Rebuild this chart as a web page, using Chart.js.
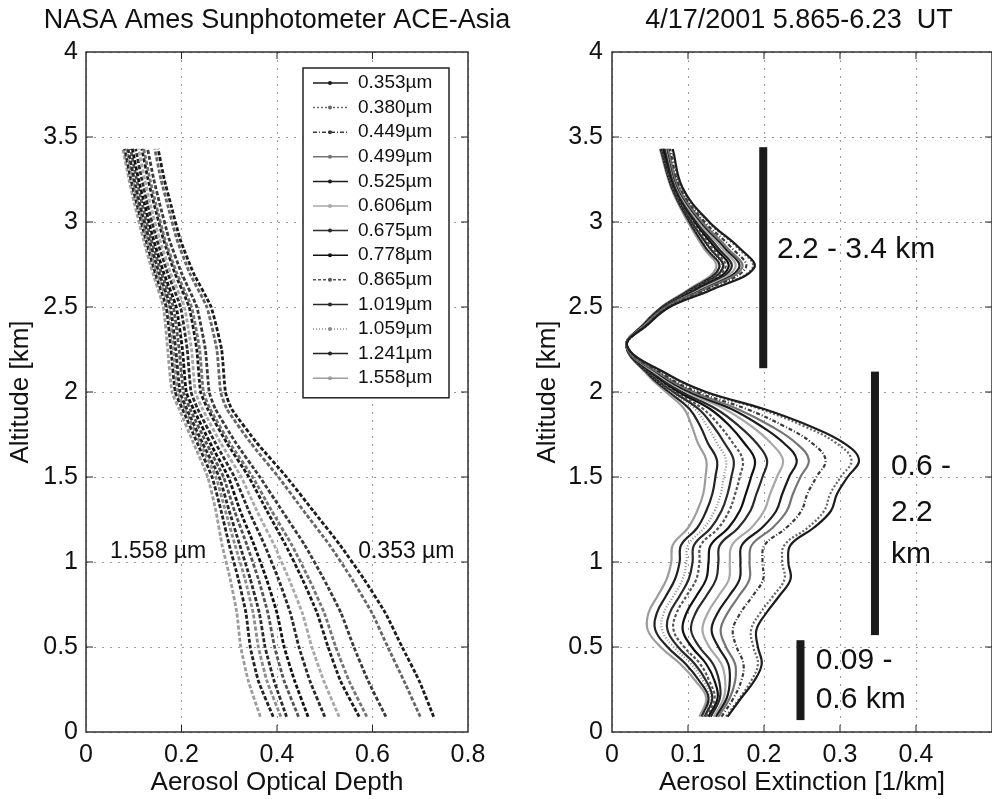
<!DOCTYPE html>
<html lang="en">
<head>
<meta charset="UTF-8">
<title>NASA Ames Sunphotometer ACE-Asia</title>
<script src="https://cdn.jsdelivr.net/npm/chart.js"></script>
<style>
  html, body { margin: 0; padding: 0; background: #fff; overflow: hidden; width: 992px; height: 799px; }
  #left { position: absolute; left: 0; top: 0; }
  #right { position: absolute; left: 520px; top: 0; }
</style>
</head>
<body>
<canvas id="left" width="540" height="799"></canvas>
<canvas id="right" width="480" height="799"></canvas>
<script>
// wavelengths (legend order)
const wavelengths = ['0.353µm', '0.380µm', '0.449µm', '0.499µm', '0.525µm', '0.606µm', '0.675µm',
    '0.778µm', '0.865µm', '1.019µm', '1.059µm', '1.241µm', '1.558µm'];

// left panel: aerosol optical depth vs altitude [km]
const aodAltitudes = [0.09, 0.3, 0.5, 0.7, 0.9, 1.1, 1.3, 1.5, 1.7, 1.9, 2.0, 2.25, 2.5, 2.7, 2.9, 3.1, 3.25, 3.43];
const aod353 = [0.728, 0.698, 0.662, 0.627, 0.582, 0.532, 0.476, 0.420, 0.358, 0.305, 0.292, 0.284, 0.262, 0.225, 0.197, 0.178, 0.164, 0.151];
const aod380 = [0.700, 0.666, 0.632, 0.599, 0.557, 0.510, 0.456, 0.403, 0.345, 0.295, 0.282, 0.274, 0.253, 0.217, 0.190, 0.171, 0.157, 0.144];
const aod449 = [0.628, 0.591, 0.561, 0.534, 0.498, 0.458, 0.411, 0.364, 0.314, 0.271, 0.258, 0.250, 0.232, 0.200, 0.174, 0.155, 0.142, 0.129];
const aod499 = [0.588, 0.551, 0.523, 0.499, 0.467, 0.431, 0.389, 0.349, 0.301, 0.260, 0.246, 0.238, 0.221, 0.190, 0.165, 0.147, 0.134, 0.121];
const aod525 = [0.572, 0.533, 0.507, 0.484, 0.453, 0.418, 0.379, 0.341, 0.295, 0.255, 0.240, 0.232, 0.216, 0.186, 0.162, 0.143, 0.130, 0.117];
const aod606 = [0.530, 0.498, 0.473, 0.453, 0.425, 0.394, 0.358, 0.325, 0.282, 0.244, 0.229, 0.221, 0.206, 0.177, 0.154, 0.135, 0.123, 0.110];
const aod675 = [0.500, 0.469, 0.446, 0.428, 0.403, 0.374, 0.341, 0.311, 0.271, 0.234, 0.220, 0.212, 0.198, 0.171, 0.148, 0.129, 0.117, 0.104];
const aod778 = [0.465, 0.437, 0.415, 0.400, 0.378, 0.352, 0.323, 0.298, 0.260, 0.225, 0.210, 0.202, 0.189, 0.163, 0.141, 0.123, 0.110, 0.097];
const aod865 = [0.445, 0.415, 0.395, 0.381, 0.361, 0.337, 0.311, 0.288, 0.252, 0.218, 0.204, 0.195, 0.183, 0.158, 0.136, 0.118, 0.106, 0.093];
const aod1019 = [0.420, 0.394, 0.375, 0.363, 0.344, 0.322, 0.300, 0.279, 0.244, 0.211, 0.197, 0.188, 0.177, 0.153, 0.132, 0.113, 0.101, 0.088];
const aod1059 = [0.408, 0.379, 0.361, 0.350, 0.333, 0.312, 0.292, 0.272, 0.239, 0.207, 0.192, 0.183, 0.173, 0.149, 0.128, 0.110, 0.098, 0.085];
const aod1241 = [0.392, 0.361, 0.344, 0.335, 0.319, 0.300, 0.283, 0.264, 0.233, 0.202, 0.187, 0.178, 0.168, 0.145, 0.125, 0.107, 0.094, 0.081];
const aod1558 = [0.365, 0.340, 0.324, 0.316, 0.302, 0.285, 0.272, 0.255, 0.225, 0.195, 0.180, 0.171, 0.162, 0.140, 0.120, 0.102, 0.090, 0.077];

// right panel: aerosol extinction [1/km] vs altitude [km]
const extAltitudes = [0.09, 0.2, 0.3, 0.4, 0.5, 0.6, 0.7, 0.8, 0.9, 1.0, 1.1, 1.2, 1.3, 1.4, 1.5, 1.6, 1.7, 1.8, 1.9, 2.0,
    2.1, 2.27, 2.4, 2.5, 2.6, 2.73, 2.85, 3.0, 3.2, 3.43];
const ext353 = [0.152, 0.170, 0.187, 0.197, 0.192, 0.190, 0.203, 0.220, 0.235, 0.232, 0.235, 0.265, 0.288, 0.296, 0.310, 0.325, 0.305, 0.260, 0.200, 0.124, 0.075, 0.020, 0.048, 0.076, 0.130, 0.187, 0.167, 0.128, 0.093, 0.080];
const ext380 = [0.150, 0.168, 0.183, 0.192, 0.186, 0.183, 0.195, 0.212, 0.227, 0.224, 0.227, 0.257, 0.279, 0.287, 0.301, 0.315, 0.295, 0.252, 0.195, 0.121, 0.074, 0.020, 0.048, 0.075, 0.129, 0.185, 0.165, 0.127, 0.092, 0.079];
const ext449 = [0.144, 0.160, 0.170, 0.173, 0.164, 0.159, 0.169, 0.185, 0.199, 0.198, 0.201, 0.229, 0.249, 0.257, 0.269, 0.281, 0.263, 0.226, 0.177, 0.112, 0.069, 0.020, 0.047, 0.074, 0.123, 0.176, 0.157, 0.122, 0.090, 0.076];
const ext499 = [0.140, 0.155, 0.162, 0.162, 0.150, 0.143, 0.152, 0.167, 0.181, 0.181, 0.184, 0.211, 0.230, 0.238, 0.248, 0.259, 0.242, 0.209, 0.165, 0.107, 0.066, 0.019, 0.046, 0.072, 0.120, 0.171, 0.151, 0.119, 0.088, 0.074];
const ext525 = [0.137, 0.151, 0.155, 0.153, 0.140, 0.131, 0.139, 0.154, 0.168, 0.169, 0.171, 0.197, 0.216, 0.224, 0.233, 0.243, 0.226, 0.196, 0.157, 0.102, 0.064, 0.019, 0.046, 0.071, 0.118, 0.167, 0.148, 0.117, 0.087, 0.073];
const ext606 = [0.134, 0.147, 0.149, 0.144, 0.128, 0.119, 0.126, 0.140, 0.154, 0.155, 0.158, 0.183, 0.200, 0.208, 0.217, 0.225, 0.209, 0.183, 0.148, 0.098, 0.061, 0.019, 0.045, 0.071, 0.115, 0.162, 0.144, 0.114, 0.086, 0.072];
const ext675 = [0.130, 0.142, 0.141, 0.133, 0.115, 0.104, 0.110, 0.124, 0.137, 0.140, 0.142, 0.166, 0.182, 0.190, 0.198, 0.204, 0.190, 0.167, 0.137, 0.092, 0.058, 0.019, 0.044, 0.069, 0.112, 0.157, 0.139, 0.111, 0.084, 0.070];
const ext778 = [0.127, 0.139, 0.135, 0.124, 0.105, 0.093, 0.098, 0.111, 0.124, 0.127, 0.130, 0.153, 0.168, 0.176, 0.183, 0.188, 0.174, 0.155, 0.129, 0.088, 0.056, 0.019, 0.044, 0.069, 0.110, 0.153, 0.135, 0.109, 0.083, 0.068];
const ext865 = [0.124, 0.135, 0.128, 0.116, 0.095, 0.081, 0.085, 0.098, 0.111, 0.115, 0.117, 0.140, 0.154, 0.162, 0.168, 0.172, 0.159, 0.142, 0.120, 0.084, 0.054, 0.019, 0.043, 0.068, 0.107, 0.149, 0.131, 0.107, 0.082, 0.067];
const ext1019 = [0.122, 0.132, 0.124, 0.109, 0.087, 0.073, 0.076, 0.089, 0.101, 0.106, 0.108, 0.130, 0.144, 0.152, 0.157, 0.160, 0.148, 0.133, 0.114, 0.081, 0.052, 0.019, 0.043, 0.067, 0.105, 0.146, 0.128, 0.105, 0.081, 0.066];
const ext1059 = [0.120, 0.130, 0.120, 0.104, 0.081, 0.066, 0.068, 0.081, 0.093, 0.098, 0.100, 0.121, 0.135, 0.143, 0.147, 0.150, 0.138, 0.125, 0.109, 0.078, 0.051, 0.019, 0.043, 0.066, 0.104, 0.144, 0.126, 0.104, 0.080, 0.065];
const ext1241 = [0.118, 0.127, 0.115, 0.097, 0.073, 0.057, 0.059, 0.071, 0.083, 0.089, 0.091, 0.112, 0.124, 0.132, 0.136, 0.138, 0.126, 0.116, 0.102, 0.075, 0.049, 0.019, 0.042, 0.066, 0.102, 0.141, 0.123, 0.102, 0.079, 0.064];
const ext1558 = [0.115, 0.124, 0.110, 0.090, 0.064, 0.047, 0.048, 0.060, 0.072, 0.078, 0.080, 0.100, 0.112, 0.120, 0.123, 0.124, 0.113, 0.105, 0.095, 0.071, 0.047, 0.019, 0.042, 0.065, 0.100, 0.137, 0.120, 0.100, 0.078, 0.063];

// axis ranges: [min, max, step]
const aodTicks = [0, 0.8, 0.2];
const extTicks = [0, 0.5, 0.1];
const altTicks = [0, 4, 0.5];

const aodSeries = [aod353, aod380, aod449, aod499, aod525, aod606, aod675, aod778, aod865, aod1019, aod1059, aod1241, aod1558];
const extSeries = [ext353, ext380, ext449, ext499, ext525, ext606, ext675, ext778, ext865, ext1019, ext1059, ext1241, ext1558];

// grey levels of the scanned curves
const colors = ['#1c1c1c', '#666666', '#3a3a3a', '#747474', '#1c1c1c', '#a8a8a8', '#2a2a2a',
    '#111111', '#555555', '#2a2a2a', '#8c8c8c', '#222222', '#9c9c9c'];
const dashes = [[], [2, 2], [4, 2, 1, 2], [], [], [], [], [], [3, 2], [], [1, 2], [], []];

const FONT = '"Liberation Sans", Arial, Helvetica, sans-serif';
Chart.defaults.font.family = FONT;
Chart.defaults.color = '#111';

const fmt = v => String(Math.round(v * 10) / 10);

// box around the plot with inward ticks on all four sides (matlab look)
const framePlugin = {
    id: 'frame',
    afterDatasetsDraw(chart) {
        const {ctx, chartArea: a, scales: {x, y}} = chart;
        ctx.save();
        ctx.strokeStyle = '#222';
        ctx.lineWidth = 1.4;
        ctx.strokeRect(a.left, a.top, a.right - a.left, a.bottom - a.top);
        ctx.lineWidth = 1;
        ctx.beginPath();
        x.ticks.forEach(t => {
            const px = x.getPixelForValue(t.value);
            if (px <= a.left + 1 || px >= a.right - 1) return;
            ctx.moveTo(px, a.bottom); ctx.lineTo(px, a.bottom - 7);
            ctx.moveTo(px, a.top); ctx.lineTo(px, a.top + 7);
        });
        y.ticks.forEach(t => {
            const py = y.getPixelForValue(t.value);
            if (py <= a.top + 1 || py >= a.bottom - 1) return;
            ctx.moveTo(a.left, py); ctx.lineTo(a.left + 7, py);
            ctx.moveTo(a.right, py); ctx.lineTo(a.right - 7, py);
        });
        ctx.stroke();
        ctx.restore();
    }
};

// panel heading centred over the plot area
const headingPlugin = {
    id: 'heading',
    afterDraw(chart, args, opts) {
        const {ctx, chartArea: a} = chart;
        ctx.save();
        ctx.fillStyle = '#111';
        ctx.font = '27px ' + FONT;
        ctx.textAlign = 'center';
        ctx.textBaseline = 'middle';
        ctx.fillText(opts.text, (a.left + a.right) / 2 + (opts.shift || 0), 21);
        ctx.restore();
    }
};

// text and range bars placed in data coordinates
const notesPlugin = {
    id: 'notes',
    afterDatasetsDraw(chart, args, opts) {
        const {ctx, scales: {x, y}} = chart;
        ctx.save();
        ctx.fillStyle = '#1a1a1a';
        (opts.bars || []).forEach(b => {
            const px = x.getPixelForValue(b.x);
            const top = y.getPixelForValue(b.y1);
            const bot = y.getPixelForValue(b.y0);
            ctx.fillRect(px - 4, top, 8, bot - top);
        });
        ctx.fillStyle = '#111';
        ctx.textBaseline = 'middle';
        (opts.texts || []).forEach(t => {
            ctx.font = t.size + 'px ' + FONT;
            ctx.fillText(t.text, x.getPixelForValue(t.x), y.getPixelForValue(t.y));
        });
        ctx.restore();
    }
};

// legend drawn inside the plot area, top right
const insideLegend = {
    id: 'insideLegend',
    afterDraw(chart) {
        const {ctx, chartArea: a} = chart;
        const items = chart.data.datasets;
        const w = 146, rowH = 24.6;
        const h = items.length * rowH + 10;
        const x0 = a.right - 19 - w, y0 = a.top + 16;
        ctx.save();
        ctx.fillStyle = '#fff';
        ctx.fillRect(x0, y0, w, h);
        ctx.strokeStyle = '#222';
        ctx.lineWidth = 1.5;
        ctx.strokeRect(x0, y0, w, h);
        ctx.font = '19px ' + FONT;
        ctx.textBaseline = 'middle';
        items.forEach((ds, i) => {
            const cy = y0 + 15 + i * rowH;
            ctx.strokeStyle = ds.borderColor;
            ctx.lineWidth = 1.5;
            ctx.setLineDash(dashes[i]);
            ctx.beginPath();
            ctx.moveTo(x0 + 10, cy);
            ctx.lineTo(x0 + 45, cy);
            ctx.stroke();
            ctx.setLineDash([]);
            ctx.fillStyle = ds.borderColor;
            ctx.beginPath();
            ctx.arc(x0 + 27, cy, 2, 0, Math.PI * 2);
            ctx.fill();
            ctx.fillStyle = '#111';
            ctx.fillText(ds.label, x0 + 55, cy);
        });
        ctx.restore();
    }
};

function profile(xs, alts) {
    return alts.map((a, i) => ({x: xs[i], y: a}));
}

function axes(range, xTitle, yPad, yTitlePad, yWidth, hideLast) {
    return {
        x: {
            type: 'linear', min: range[0], max: range[1],
            ticks: {
                stepSize: range[2], padding: 8, maxRotation: 0, font: {size: 25}, color: '#111',
                callback: v => (hideLast && v >= range[1] - 1e-6) ? '' : fmt(v)
            },
            grid: {color: '#9a9a9a', lineWidth: 1, drawTicks: false},
            border: {display: false, dash: [2, 6]},
            title: {display: true, text: xTitle, font: {size: 26}, color: '#111', padding: {top: 0, bottom: 1}},
            afterFit: s => { s.height = 67; }
        },
        y: {
            type: 'linear', min: altTicks[0], max: altTicks[1],
            ticks: {stepSize: altTicks[2], padding: yPad, font: {size: 25}, color: '#111', callback: v => fmt(v)},
            grid: {color: '#9a9a9a', lineWidth: 1, drawTicks: false},
            border: {display: false, dash: [2, 6]},
            title: {display: true, text: 'Altitude [km]', font: {size: 26}, color: '#111', padding: {top: yTitlePad, bottom: 0}},
            afterFit: s => { s.width = yWidth; }
        }
    };
}

new Chart(document.getElementById('left'), {
    type: 'scatter',
    data: {
        datasets: aodSeries.map((vals, i) => ({
            label: wavelengths[i],
            data: profile(vals, aodAltitudes),
            showLine: true,
            borderColor: colors[i],
            backgroundColor: colors[i],
            borderWidth: 2.8,
            borderDash: [4, 2],
            pointRadius: 0,
            tension: 0.15
        }))
    },
    options: {
        responsive: false,
        animation: false,
        layout: {padding: {left: 0, right: 72, top: 52, bottom: 0}},
        scales: axes(aodTicks, 'Aerosol Optical Depth', 8, 5, 86, false),
        plugins: {
            legend: {display: false},
            tooltip: {enabled: false},
            heading: {text: 'NASA Ames Sunphotometer ACE-Asia'},
            notes: {
                texts: [
                    {text: '1.558 µm', x: 0.05, y: 1.06, size: 23},
                    {text: '0.353 µm', x: 0.57, y: 1.06, size: 23}
                ]
            }
        }
    },
    plugins: [framePlugin, notesPlugin, insideLegend, headingPlugin]
});

new Chart(document.getElementById('right'), {
    type: 'scatter',
    data: {
        datasets: extSeries.map((vals, i) => ({
            label: wavelengths[i],
            data: profile(vals, extAltitudes),
            showLine: true,
            borderColor: colors[i],
            backgroundColor: colors[i],
            borderWidth: 2.2,
            borderDash: dashes[i],
            pointRadius: 0,
            tension: 0.4
        }))
    },
    options: {
        responsive: false,
        animation: false,
        layout: {padding: {left: 0, right: 5, top: 52, bottom: 0}},
        scales: axes(extTicks, 'Aerosol Extinction [1/km]', 9, 12, 92, true),
        plugins: {
            legend: {display: false},
            tooltip: {enabled: false},
            heading: {text: '4/17/2001 5.865-6.23  UT', shift: -3},
            notes: {
                bars: [
                    {x: 0.199, y0: 2.14, y1: 3.44},
                    {x: 0.346, y0: 0.57, y1: 2.12},
                    {x: 0.248, y0: 0.07, y1: 0.54}
                ],
                texts: [
                    {text: '2.2 - 3.4 km', x: 0.217, y: 2.835, size: 30},
                    {text: '0.6 -', x: 0.367, y: 1.56, size: 30},
                    {text: '2.2', x: 0.367, y: 1.29, size: 30},
                    {text: 'km', x: 0.367, y: 1.04, size: 30},
                    {text: '0.09 -', x: 0.268, y: 0.42, size: 30},
                    {text: '0.6 km', x: 0.268, y: 0.19, size: 30}
                ]
            }
        }
    },
    plugins: [framePlugin, notesPlugin, headingPlugin]
});
</script>
</body>
</html>
